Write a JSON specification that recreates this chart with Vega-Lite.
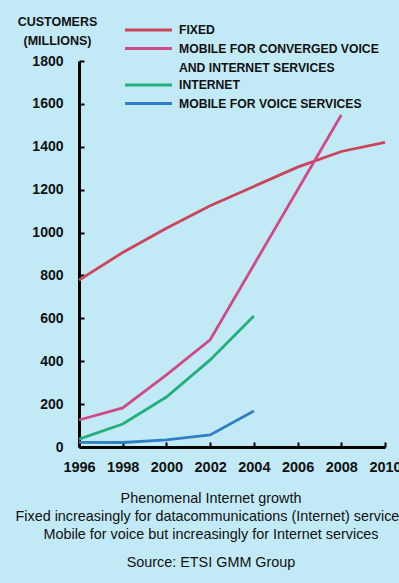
{
  "$schema": "https://vega.github.io/schema/vega-lite/v6.json",
  "width": 306,
  "height": 386,
  "autosize": "none",
  "padding": {"left": 79, "top": 61, "right": 14, "bottom": 136},
  "background": "#c2eaf6",
  "config": {
    "view": {"stroke": null},
    "font": "Liberation Sans, Arial, sans-serif"
  },
  "title": {
    "text": ["Phenomenal Internet growth", "Fixed increasingly for datacommunications (Internet) services", "Mobile for voice but increasingly for Internet services"],
    "subtitle": "Source: ETSI GMM Group",
    "orient": "bottom",
    "anchor": "middle",
    "frame": "group",
    "dx": -21,
    "offset": 18,
    "fontSize": 14.4,
    "fontWeight": "normal",
    "lineHeight": 18,
    "color": "#111111",
    "subtitleFontSize": 14.4,
    "subtitleColor": "#111111",
    "subtitlePadding": 14
  },
  "data": {
    "values": [
      {"year": 1996, "series": "FIXED", "value": 778},
      {"year": 1998, "series": "FIXED", "value": 907},
      {"year": 2000, "series": "FIXED", "value": 1020},
      {"year": 2002, "series": "FIXED", "value": 1125},
      {"year": 2004, "series": "FIXED", "value": 1215},
      {"year": 2006, "series": "FIXED", "value": 1305},
      {"year": 2008, "series": "FIXED", "value": 1378},
      {"year": 2010, "series": "FIXED", "value": 1420},
      {"year": 1996, "series": "MOBILE FOR CONVERGED VOICE AND INTERNET SERVICES", "value": 126},
      {"year": 1998, "series": "MOBILE FOR CONVERGED VOICE AND INTERNET SERVICES", "value": 182},
      {"year": 2000, "series": "MOBILE FOR CONVERGED VOICE AND INTERNET SERVICES", "value": 336},
      {"year": 2002, "series": "MOBILE FOR CONVERGED VOICE AND INTERNET SERVICES", "value": 500},
      {"year": 2008, "series": "MOBILE FOR CONVERGED VOICE AND INTERNET SERVICES", "value": 1548},
      {"year": 1996, "series": "INTERNET", "value": 37},
      {"year": 1998, "series": "INTERNET", "value": 107},
      {"year": 2000, "series": "INTERNET", "value": 233},
      {"year": 2002, "series": "INTERNET", "value": 406},
      {"year": 2004, "series": "INTERNET", "value": 611},
      {"year": 1996, "series": "MOBILE FOR VOICE SERVICES", "value": 22},
      {"year": 1998, "series": "MOBILE FOR VOICE SERVICES", "value": 21},
      {"year": 2000, "series": "MOBILE FOR VOICE SERVICES", "value": 33},
      {"year": 2002, "series": "MOBILE FOR VOICE SERVICES", "value": 56},
      {"year": 2004, "series": "MOBILE FOR VOICE SERVICES", "value": 168}
    ]
  },
  "mark": {"type": "line", "strokeWidth": 2.8, "clip": false},
  "encoding": {
    "x": {
      "field": "year",
      "type": "quantitative",
      "scale": {"domain": [1996, 2010], "nice": false, "zero": false},
      "axis": {
        "title": null,
        "values": [1996, 1998, 2000, 2002, 2004, 2006, 2008, 2010],
        "format": "d",
        "grid": false,
        "tickSize": -5,
        "tickWidth": 2,
        "tickColor": "#000000",
        "domainColor": "#000000",
        "domainWidth": 3,
        "labelFlush": false,
        "labelFontSize": 14.5,
        "labelFontWeight": "bold",
        "labelColor": "#111111",
        "labelPadding": 18.5
      }
    },
    "y": {
      "field": "value",
      "type": "quantitative",
      "scale": {"domain": [0, 1800], "nice": false},
      "axis": {
        "title": ["CUSTOMERS", "(MILLIONS)"],
        "titleAngle": 0,
        "titleAlign": "center",
        "titleBaseline": "alphabetic",
        "titleX": -22,
        "titleY": -35.5,
        "titleFontSize": 12.5,
        "titleFontWeight": "bold",
        "titleLineHeight": 19,
        "titleColor": "#111111",
        "values": [0, 200, 400, 600, 800, 1000, 1200, 1400, 1600, 1800],
        "format": "d",
        "grid": false,
        "tickSize": -5,
        "tickWidth": 2,
        "tickColor": "#000000",
        "domainColor": "#000000",
        "domainWidth": 3,
        "labelFlush": false,
        "labelFontSize": 14,
        "labelFontWeight": "bold",
        "labelColor": "#111111",
        "labelPadding": 21
      }
    },
    "color": {
      "field": "series",
      "type": "nominal",
      "scale": {
        "domain": ["FIXED", "MOBILE FOR CONVERGED VOICE AND INTERNET SERVICES", "INTERNET", "MOBILE FOR VOICE SERVICES"],
        "range": ["#cc4459", "#cf4a86", "#22b07a", "#2f7ec6"]
      },
      "legend": {
        "title": null,
        "orient": "none",
        "legendX": 44.5,
        "legendY": -38.5,
        "padding": 0,
        "symbolType": "stroke",
        "symbolSize": 2209,
        "symbolStrokeWidth": 3,
        "clipHeight": 15,
        "labelFontSize": 12.2,
        "labelFontWeight": "bold",
        "labelColor": "#111111",
        "labelLimit": 0,
        "labelOffset": 5.5,
        "rowPadding": 3.5,
        "labelExpr": "datum.value == 'MOBILE FOR CONVERGED VOICE AND INTERNET SERVICES' ? ['MOBILE FOR CONVERGED VOICE', 'AND INTERNET SERVICES'] : datum.label",
        "encode": {
          "labels": {
            "update": {
              "lineHeight": {"value": 19}
            }
          }
        }
      }
    }
  }
}
